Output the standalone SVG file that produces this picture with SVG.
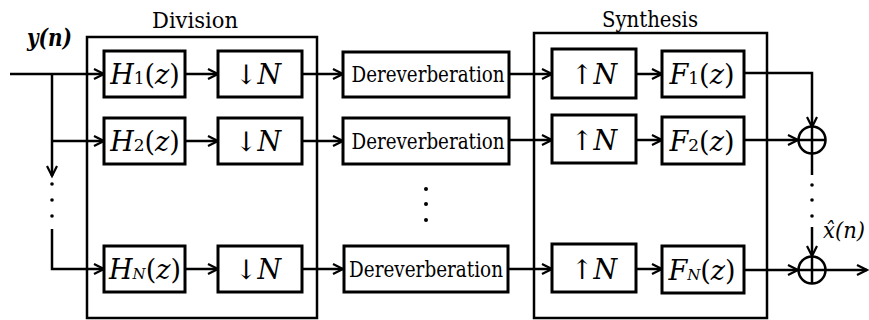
<svg xmlns="http://www.w3.org/2000/svg" width="869" height="320" viewBox="0 0 869 320">
<style>
text{font-family:'DejaVu Serif',serif;fill:#000}
.box{fill:#fff;stroke:#000;stroke-width:3}
.frame{fill:none;stroke:#000;stroke-width:2.5}
.ln{fill:none;stroke:#000;stroke-width:2.5}
.m{font-size:27px;text-anchor:middle}
.d{font-size:23px;text-anchor:middle}
.lab{font-size:22px;text-anchor:middle}
.it{font-style:italic}
.dot{fill:#000}
</style>
<defs>
<marker id="ar" markerUnits="userSpaceOnUse" markerWidth="14" markerHeight="14" refX="11" refY="6" orient="auto">
<path d="M1,1 L11,6 L1,11" fill="none" stroke="#000" stroke-width="2.2"/>
</marker>
</defs>
<rect width="869" height="320" fill="#fff"/>

<g id="division">
<rect class="frame" x="87" y="37" width="230" height="281"/>
<text class="lab" x="195" y="28" textLength="86" lengthAdjust="spacingAndGlyphs">Division</text>
</g>
<g id="synthesis">
<rect class="frame" x="534" y="33" width="233" height="285"/>
<text class="lab" x="650" y="27" textLength="96" lengthAdjust="spacingAndGlyphs">Synthesis</text>
</g>

<g id="connectors">
<path class="ln" d="M10,74 H104" marker-end="url(#ar)"/>
<path class="ln" d="M52,74 V176" marker-end="url(#ar)"/>
<circle class="dot" cx="52" cy="184" r="1.8"/>
<circle class="dot" cx="52" cy="200" r="1.8"/>
<circle class="dot" cx="52" cy="216" r="1.8"/>
<path class="ln" d="M52,229 V269 H104" marker-end="url(#ar)"/>
<path class="ln" d="M52,141 H104" marker-end="url(#ar)"/>
<path class="ln" d="M185,74 H218" marker-end="url(#ar)"/>
<path class="ln" d="M185,141 H218" marker-end="url(#ar)"/>
<path class="ln" d="M185,269 H218" marker-end="url(#ar)"/>
<path class="ln" d="M302,74 H343" marker-end="url(#ar)"/>
<path class="ln" d="M302,141 H343" marker-end="url(#ar)"/>
<path class="ln" d="M302,269 H343" marker-end="url(#ar)"/>
<path class="ln" d="M509,74 H552" marker-end="url(#ar)"/>
<path class="ln" d="M509,140 H552" marker-end="url(#ar)"/>
<path class="ln" d="M508,269 H552" marker-end="url(#ar)"/>
<path class="ln" d="M636,74 H662" marker-end="url(#ar)"/>
<path class="ln" d="M636,140 H662" marker-end="url(#ar)"/>
<path class="ln" d="M636,269 H662" marker-end="url(#ar)"/>
<path class="ln" d="M744,73 H812 V127" marker-end="url(#ar)"/>
<path class="ln" d="M744,140 H798" marker-end="url(#ar)"/>
<path class="ln" d="M744,270 H798" marker-end="url(#ar)"/>
<path class="ln" d="M812,154 V175"/>
<circle class="dot" cx="812" cy="185" r="1.8"/>
<circle class="dot" cx="812" cy="200" r="1.8"/>
<circle class="dot" cx="812" cy="216" r="1.8"/>
<path class="ln" d="M812,227 V256" marker-end="url(#ar)"/>
<path class="ln" d="M826,270 H867" marker-end="url(#ar)"/>
<circle cx="426" cy="189" r="2"/>
<circle cx="426" cy="204" r="2"/>
<circle cx="426" cy="220" r="2"/>
</g>

<g id="labels">
<text class="it" x="27" y="46" font-size="25" font-weight="bold" textLength="45" lengthAdjust="spacingAndGlyphs">y(n)</text>
<text class="it" x="823" y="238" font-size="23" textLength="42" lengthAdjust="spacingAndGlyphs">x̂(n)</text>
</g>

<g id="H1"><rect class="box" x="104" y="51" width="81" height="46"/><text class="m" x="145" y="84"><tspan class="it">H</tspan><tspan font-size="17">1</tspan>(<tspan class="it">z</tspan>)</text></g>
<g id="H2"><rect class="box" x="104" y="118" width="81" height="46"/><text class="m" x="145" y="151"><tspan class="it">H</tspan><tspan font-size="17">2</tspan>(<tspan class="it">z</tspan>)</text></g>
<g id="HN"><rect class="box" x="104" y="246" width="81" height="46"/><text class="m" x="145" y="279"><tspan class="it">H</tspan><tspan class="it" font-size="15">N</tspan>(<tspan class="it">z</tspan>)</text></g>

<g id="D1"><rect class="box" x="218" y="51" width="84" height="46"/><text class="m" x="258" y="84">↓<tspan class="it">N</tspan></text></g>
<g id="D2"><rect class="box" x="218" y="118" width="84" height="46"/><text class="m" x="258" y="151">↓<tspan class="it">N</tspan></text></g>
<g id="DN"><rect class="box" x="218" y="246" width="84" height="46"/><text class="m" x="258" y="279">↓<tspan class="it">N</tspan></text></g>

<g id="R1"><rect class="box" x="343" y="52" width="166" height="45"/><text class="d" x="428" y="82" textLength="153" lengthAdjust="spacingAndGlyphs">Dereverberation</text></g>
<g id="R2"><rect class="box" x="343" y="118" width="166" height="46"/><text class="d" x="428" y="149" textLength="153" lengthAdjust="spacingAndGlyphs">Dereverberation</text></g>
<g id="RN"><rect class="box" x="344" y="246" width="164" height="46"/><text class="d" x="426" y="277" textLength="154" lengthAdjust="spacingAndGlyphs">Dereverberation</text></g>

<g id="U1"><rect class="box" x="552" y="49" width="84" height="49"/><text class="m" x="594" y="84">↑<tspan class="it">N</tspan></text></g>
<g id="U2"><rect class="box" x="552" y="115" width="84" height="48"/><text class="m" x="594" y="150">↑<tspan class="it">N</tspan></text></g>
<g id="UN"><rect class="box" x="552" y="244" width="84" height="48"/><text class="m" x="594" y="279">↑<tspan class="it">N</tspan></text></g>

<g id="F1"><rect class="box" x="662" y="51" width="82" height="46"/><text class="m" x="702" y="84"><tspan class="it">F</tspan><tspan font-size="17">1</tspan>(<tspan class="it">z</tspan>)</text></g>
<g id="F2"><rect class="box" x="662" y="117" width="82" height="47"/><text class="m" x="702" y="151"><tspan class="it">F</tspan><tspan font-size="17">2</tspan>(<tspan class="it">z</tspan>)</text></g>
<g id="FN"><rect class="box" x="662" y="246" width="82" height="47"/><text class="m" x="702" y="280"><tspan class="it">F</tspan><tspan class="it" font-size="15">N</tspan>(<tspan class="it">z</tspan>)</text></g>

<g id="sum1"><circle cx="812" cy="140" r="13.5" fill="#fff" stroke="#000" stroke-width="2.5"/><path class="ln" d="M798.5,140 H825.5 M812,126.5 V153.5"/></g>
<g id="sum2"><circle cx="812" cy="270" r="13.5" fill="#fff" stroke="#000" stroke-width="2.5"/><path class="ln" d="M798.5,270 H825.5 M812,256.5 V283.5"/></g>
</svg>
